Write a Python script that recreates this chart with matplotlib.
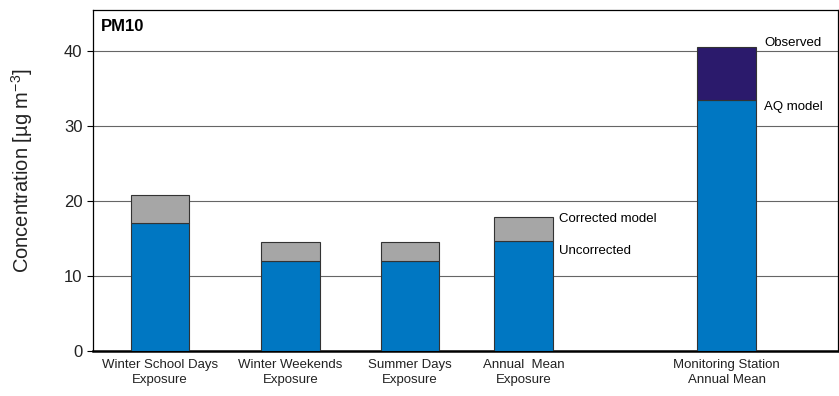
import matplotlib.pyplot as plt

plt.rcParams['font.family'] = ['Liberation Sans', 'DejaVu Sans']
plt.rcParams['mathtext.fontset'] = 'custom'
plt.rcParams['mathtext.rm'] = 'Liberation Sans'

# Data
categories = ["Winter School Days\nExposure", "Winter Weekends\nExposure",
              "Summer Days\nExposure", "Annual  Mean\nExposure",
              "Monitoring Station\nAnnual Mean"]
base_values = [17.1, 12.0, 12.0, 14.7, 33.5]     # uncorrected / AQ model
top_values = [20.8, 14.6, 14.6, 17.9, 40.5]      # corrected model / observed

# layout (x positions in axis units, axis spans 0..745)
positions = [67, 197.5, 317, 430.5, 633.7]
bar_width = 58.6

blue = '#0077c2'
grey = '#a6a6a6'
navy = '#2b1a6c'
edge = '#333333'


def main():
    fig = plt.figure(figsize=(8.39, 3.96), dpi=100)
    ax = fig.add_axes([93 / 839, 45 / 396, 745 / 839, 341 / 396])

    extra = [t - b for t, b in zip(top_values, base_values)]
    top_colors = [grey, grey, grey, grey, navy]

    ax.bar(positions, base_values, width=bar_width, color=blue,
           edgecolor=edge, linewidth=0.8, zorder=3)
    ax.bar(positions, extra, bottom=base_values, width=bar_width,
           color=top_colors, edgecolor=edge, linewidth=0.8, zorder=3)

    ax.set_xlim(0, 745)
    ax.set_ylim(0, 45.5)
    ax.set_yticks([0, 10, 20, 30, 40])
    ax.tick_params(axis='y', labelsize=12, direction='out', length=4, width=0.8,
                   labelcolor='#222222')
    ax.set_xticks(positions)
    ax.set_xticklabels(categories, fontsize=9.5, linespacing=1.3, color='#222222')
    ax.tick_params(axis='x', length=0, pad=6)
    ax.grid(axis='y', color='#666666', linewidth=0.8, zorder=0)

    for s in ax.spines.values():
        s.set_linewidth(0.9)
    ax.spines['bottom'].set_linewidth(1.8)

    ax.set_ylabel(r"Concentration [µg m$^{\mathrm{-3}}$]", fontsize=14.5,
                  color='#222222')
    ax.yaxis.set_label_coords(-0.078, 0.53)
    ax.text(8, 44.3, "PM10", fontsize=12, fontweight='bold', va='top')

    # series labels next to the bars
    x_ann = positions[3] + bar_width / 2 + 6
    ax.text(x_ann, top_values[3] - 0.35, "Corrected model", fontsize=9.5, va='center')
    ax.text(x_ann, base_values[3] - 1.4, "Uncorrected", fontsize=9.5, va='center')
    x_ann = positions[4] + bar_width / 2 + 8
    ax.text(x_ann, top_values[4] + 0.55, "Observed", fontsize=9.5, va='center')
    ax.text(x_ann, base_values[4] - 1.0, "AQ model", fontsize=9.5, va='center')

    fig.savefig("out.png", dpi=100)


if __name__ == "__main__":
    main()
